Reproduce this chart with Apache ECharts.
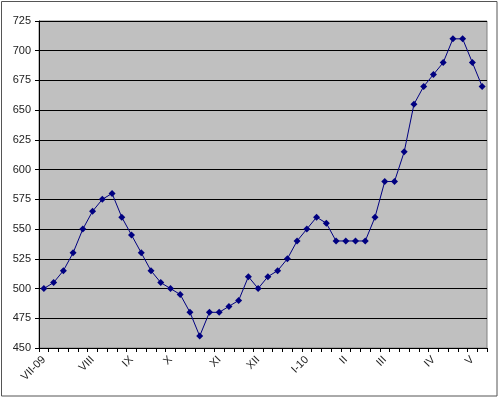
<!DOCTYPE html>
<html>
<head>
<meta charset="utf-8">
<script src="https://cdn.jsdelivr.net/npm/echarts@6/dist/echarts.min.js"></script>
<style>
html,body{margin:0;padding:0;background:#fff;}
#c{width:500px;height:399px;}
</style>
</head>
<body>
<div id="c"></div>
<script>
// Category labels (weekly points, only month starts labelled)
const categories = [
  'VII-09','','','','','VIII','','','','IX','','','','X','','','','','XI','','','','XII','','','','','I-10','','','','II','','','','III','','','','','IV','','','','V',''
];
const values = [
  500,505,515,530,550,565,575,580,560,545,530,515,505,500,495,480,460,480,480,485,490,510,
  500,510,515,525,540,550,560,555,540,540,540,540,560,590,590,615,655,670,680,690,710,710,690,670
];
const yMin = 450, yMax = 725, yStep = 25;

const chart = echarts.init(document.getElementById('c'), null, {renderer:'canvas'});
chart.setOption({
  animation:false,
  backgroundColor:'#fff',
  textStyle:{fontFamily:'Liberation Sans, Arial, sans-serif'},
  grid:{left:39,right:13,top:21,bottom:51,show:true,backgroundColor:'#c0c0c0',borderColor:'#808080',borderWidth:1},
  graphic:[{type:'rect',shape:{x:1.5,y:1.5,width:495.5,height:394.5},style:{fill:'none',stroke:'#555',lineWidth:1},silent:true}],
  xAxis:{
    type:'category',data:categories,boundaryGap:true,
    axisLine:{lineStyle:{color:'#000',width:1}},
    axisTick:{show:true,interval:0,length:4,lineStyle:{color:'#000'}},
    axisLabel:{interval:0,rotate:45,fontSize:11,color:'#222',margin:10},
    splitLine:{show:false}
  },
  yAxis:{
    type:'value',min:yMin,max:yMax,interval:yStep,
    axisLine:{show:true,lineStyle:{color:'#000',width:1}},
    axisTick:{show:true,length:4,lineStyle:{color:'#000'}},
    axisLabel:{fontSize:11,color:'#222',margin:8},
    splitLine:{show:true,lineStyle:{color:'#000',width:1}}
  },
  series:[{
    type:'line',data:values,
    symbol:'diamond',symbolSize:7,showAllSymbol:true,
    lineStyle:{color:'#000080',width:1},
    itemStyle:{color:'#000080'}
  }]
});
</script>
</body>
</html>
